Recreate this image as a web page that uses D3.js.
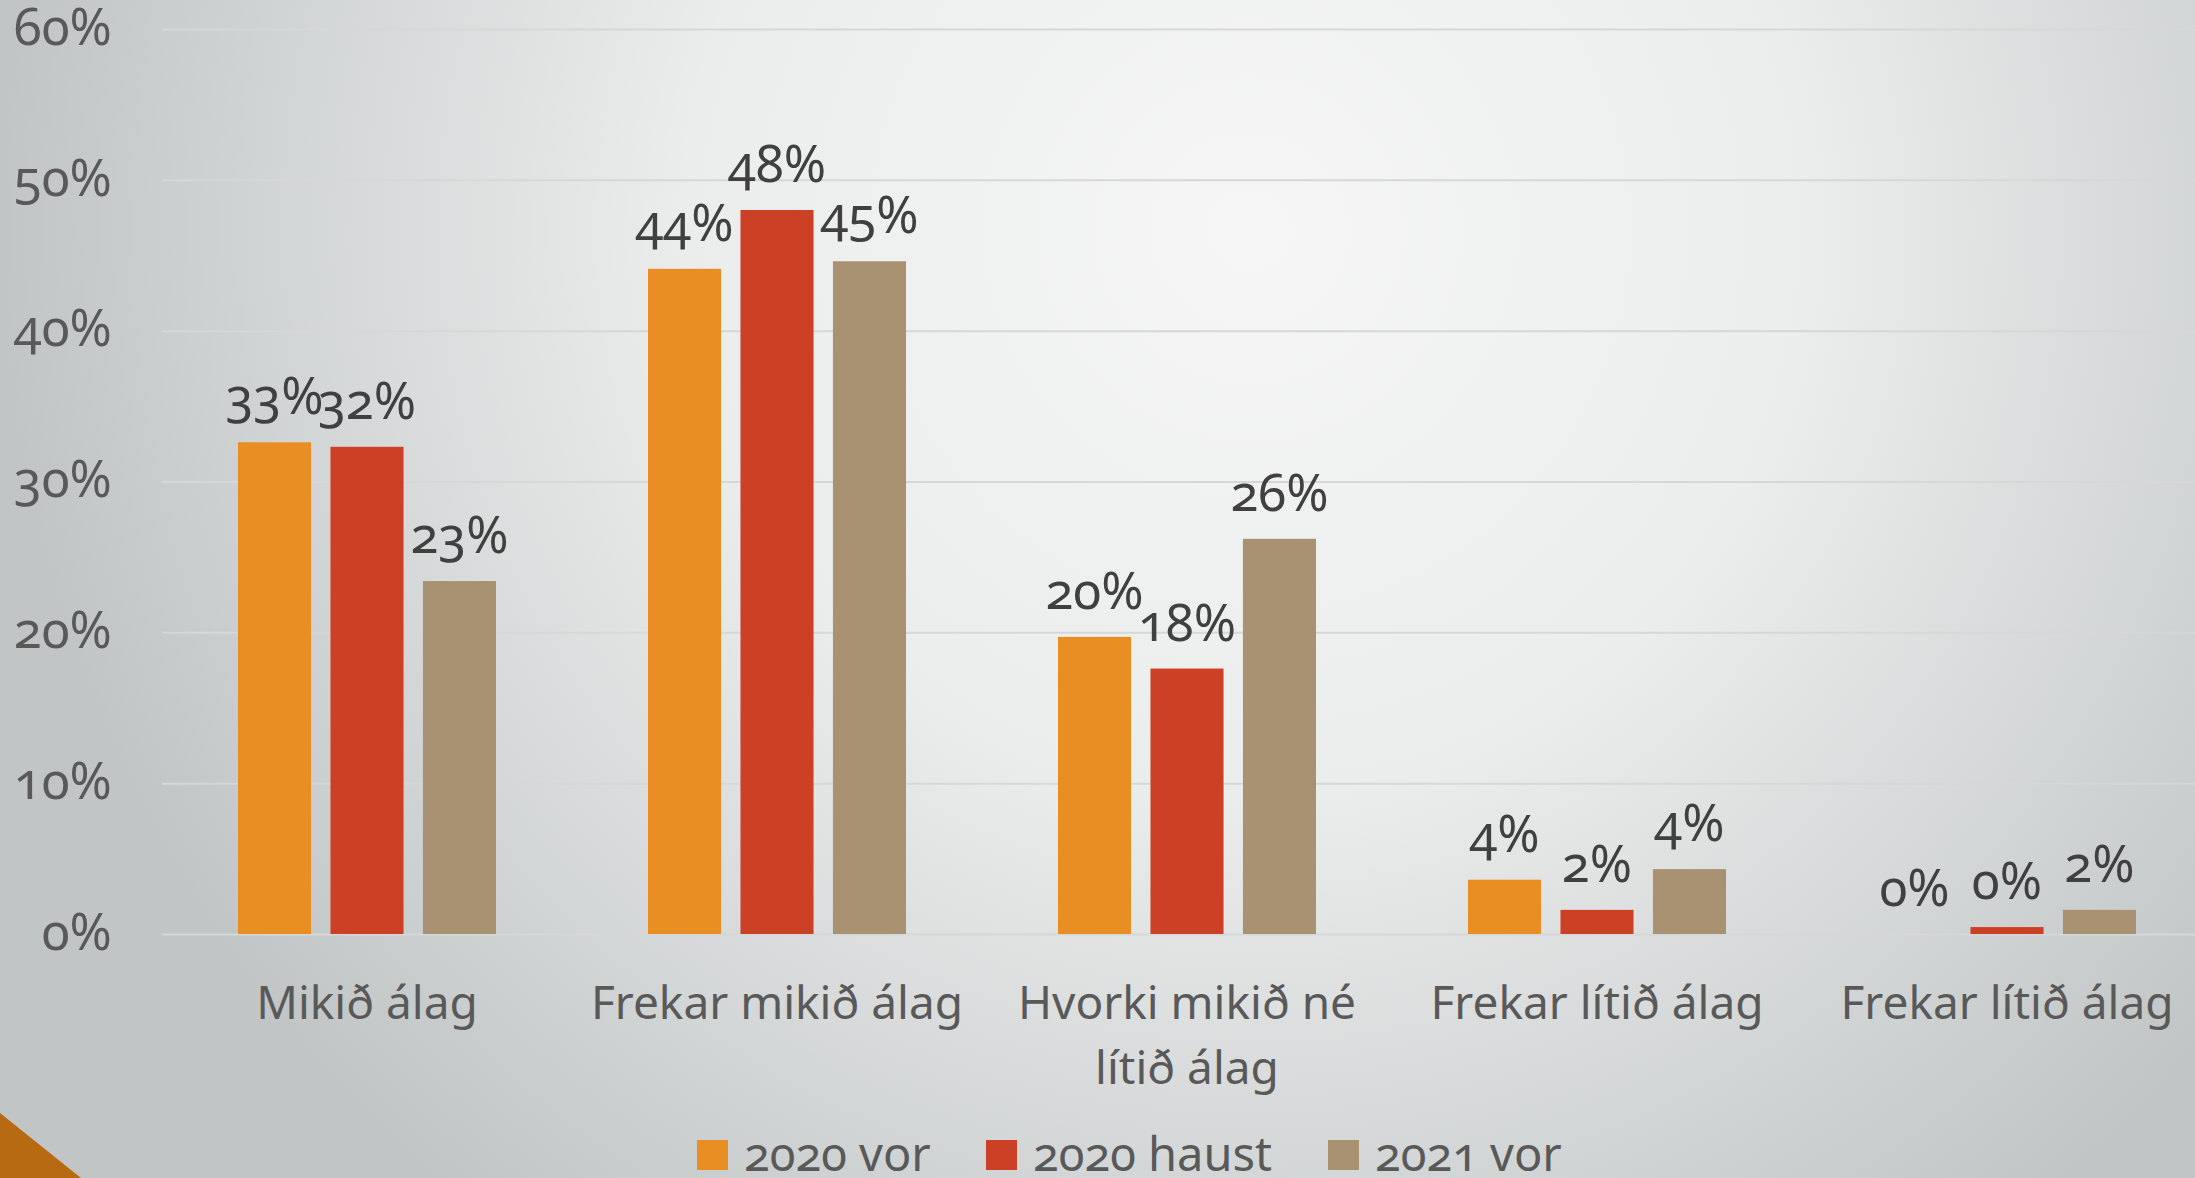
<!DOCTYPE html>
<html>
<head>
<meta charset="utf-8">
<script src="https://cdn.jsdelivr.net/npm/d3@7"></script>
<style>
  body { margin: 0; }
  svg { display: block; }
  text { font-family: "Noto Sans", sans-serif; font-variant-numeric: oldstyle-nums; }
</style>
</head>
<body>
<script>
// data
const categories = ["Mikið álag", "Frekar mikið álag", "Hvorki mikið né lítið álag", "Frekar lítið álag", "Frekar lítið álag"];
const series = ["2020 vor", "2020 haust", "2021 vor"];
const colors = ["#E98E22", "#CC4125", "#A89272"];
const vor2020 = [0.326, 0.441, 0.197, 0.036, 0];
const haust2020 = [0.323, 0.480, 0.176, 0.016, 0.0046];
const vor2021 = [0.234, 0.446, 0.262, 0.043, 0.016];
const yTicks = [0, 0.1, 0.2, 0.3, 0.4, 0.5, 0.6];

const values = [vor2020, haust2020, vor2021];

const width = 2195, height = 1178;
const margin = {top: 29, right: -17, bottom: 244, left: 162};

const svg = d3.select("body").append("svg")
    .attr("width", width)
    .attr("height", height);

// background
const defs = svg.append("defs");
const grad = defs.append("radialGradient")
    .attr("id", "bg")
    .attr("gradientUnits", "userSpaceOnUse")
    .attr("cx", 1250).attr("cy", 230).attr("r", 1250);
grad.append("stop").attr("offset", "0%").attr("stop-color", "#f6f6f6");
grad.append("stop").attr("offset", "45%").attr("stop-color", "#ebecec");
grad.append("stop").attr("offset", "100%").attr("stop-color", "#c1c5c6");
svg.append("rect").attr("width", width).attr("height", height).attr("fill", "url(#bg)");

svg.append("path")
    .attr("d", `M0,${height - 65} L81,${height} L0,${height} Z`)
    .attr("fill", "#B86A12");

// scales
const x0 = d3.scaleBand()
    .domain(d3.range(categories.length))
    .range([margin.left, width - margin.right])
    .padding(0);

const x1 = d3.scaleBand()
    .domain(d3.range(series.length))
    .range([76, x0.bandwidth() - 76])
    .paddingInner(0.21);

const y = d3.scaleLinear()
    .domain([0, 0.6])
    .range([height - margin.bottom, margin.top]);

// y axis + gridlines
const yAxis = svg.append("g")
    .attr("transform", `translate(${margin.left},0)`)
    .call(d3.axisLeft(y).tickValues(yTicks).tickFormat(d3.format(".0%"))
        .tickSize(-(width - margin.right - margin.left)).tickPadding(50));
yAxis.select(".domain").remove();
yAxis.selectAll(".tick line").attr("stroke", "#d6d7d7").attr("stroke-width", 2);
yAxis.selectAll(".tick text")
    .attr("fill", "#595959")
    .attr("font-size", 51)
    .attr("dy", "0.3em");

// bars
const groups = svg.append("g")
    .selectAll("g")
    .data(categories.map((c, i) => i))
    .join("g")
    .attr("transform", i => `translate(${x0(i)},0)`);

groups.selectAll("rect")
    .data(i => series.map((s, j) => ({s: j, v: values[j][i]})))
    .join("rect")
    .attr("x", d => x1(d.s))
    .attr("y", d => y(d.v))
    .attr("width", x1.bandwidth())
    .attr("height", d => y(0) - y(d.v))
    .attr("fill", d => colors[d.s]);

groups.selectAll("text.lbl")
    .data(i => series.map((s, j) => ({s: j, v: values[j][i]})))
    .join("text")
    .attr("class", "lbl")
    .attr("x", d => x1(d.s) + x1.bandwidth() / 2)
    .attr("y", d => y(d.v) - 28)
    .attr("text-anchor", "middle")
    .attr("font-size", 51)
    .attr("fill", "#404040")
    .text(d => d3.format(".0%")(d.v));

// x axis
const xAxis = svg.append("g")
    .attr("transform", `translate(0,${y(0)})`)
    .call(d3.axisBottom(x0).tickFormat(i => categories[i]).tickSize(0).tickPadding(0));
xAxis.select(".domain").remove();
xAxis.selectAll(".tick text")
    .attr("fill", "#595959")
    .attr("font-size", 46)
    .attr("dy", 0)
    .call(wrap, x0.bandwidth() - 14);

function wrap(texts, w) {
  texts.each(function() {
    const t = d3.select(this);
    const words = t.text().split(/\s+/);
    t.text(null);
    let line = [];
    let lineNo = 0;
    let tspan = t.append("tspan").attr("x", 0).attr("y", 85);
    for (const word of words) {
      line.push(word);
      tspan.text(line.join(" "));
      if (tspan.node().getComputedTextLength() > w && line.length > 1) {
        line.pop();
        tspan.text(line.join(" "));
        line = [word];
        lineNo++;
        tspan = t.append("tspan").attr("x", 0).attr("y", 85 + lineNo * 65).text(word);
      }
    }
  });
}

// legend
const legendX = [697, 986, 1328];
const legend = svg.append("g")
    .selectAll("g")
    .data(series)
    .join("g")
    .attr("transform", (d, i) => `translate(${legendX[i]},1140)`);
legend.append("rect")
    .attr("width", 31).attr("height", 30)
    .attr("fill", (d, i) => colors[i]);
legend.append("text")
    .attr("x", 47).attr("y", 31)
    .attr("font-size", 47)
    .attr("fill", "#595959")
    .text(d => d);
</script>
</body>
</html>
